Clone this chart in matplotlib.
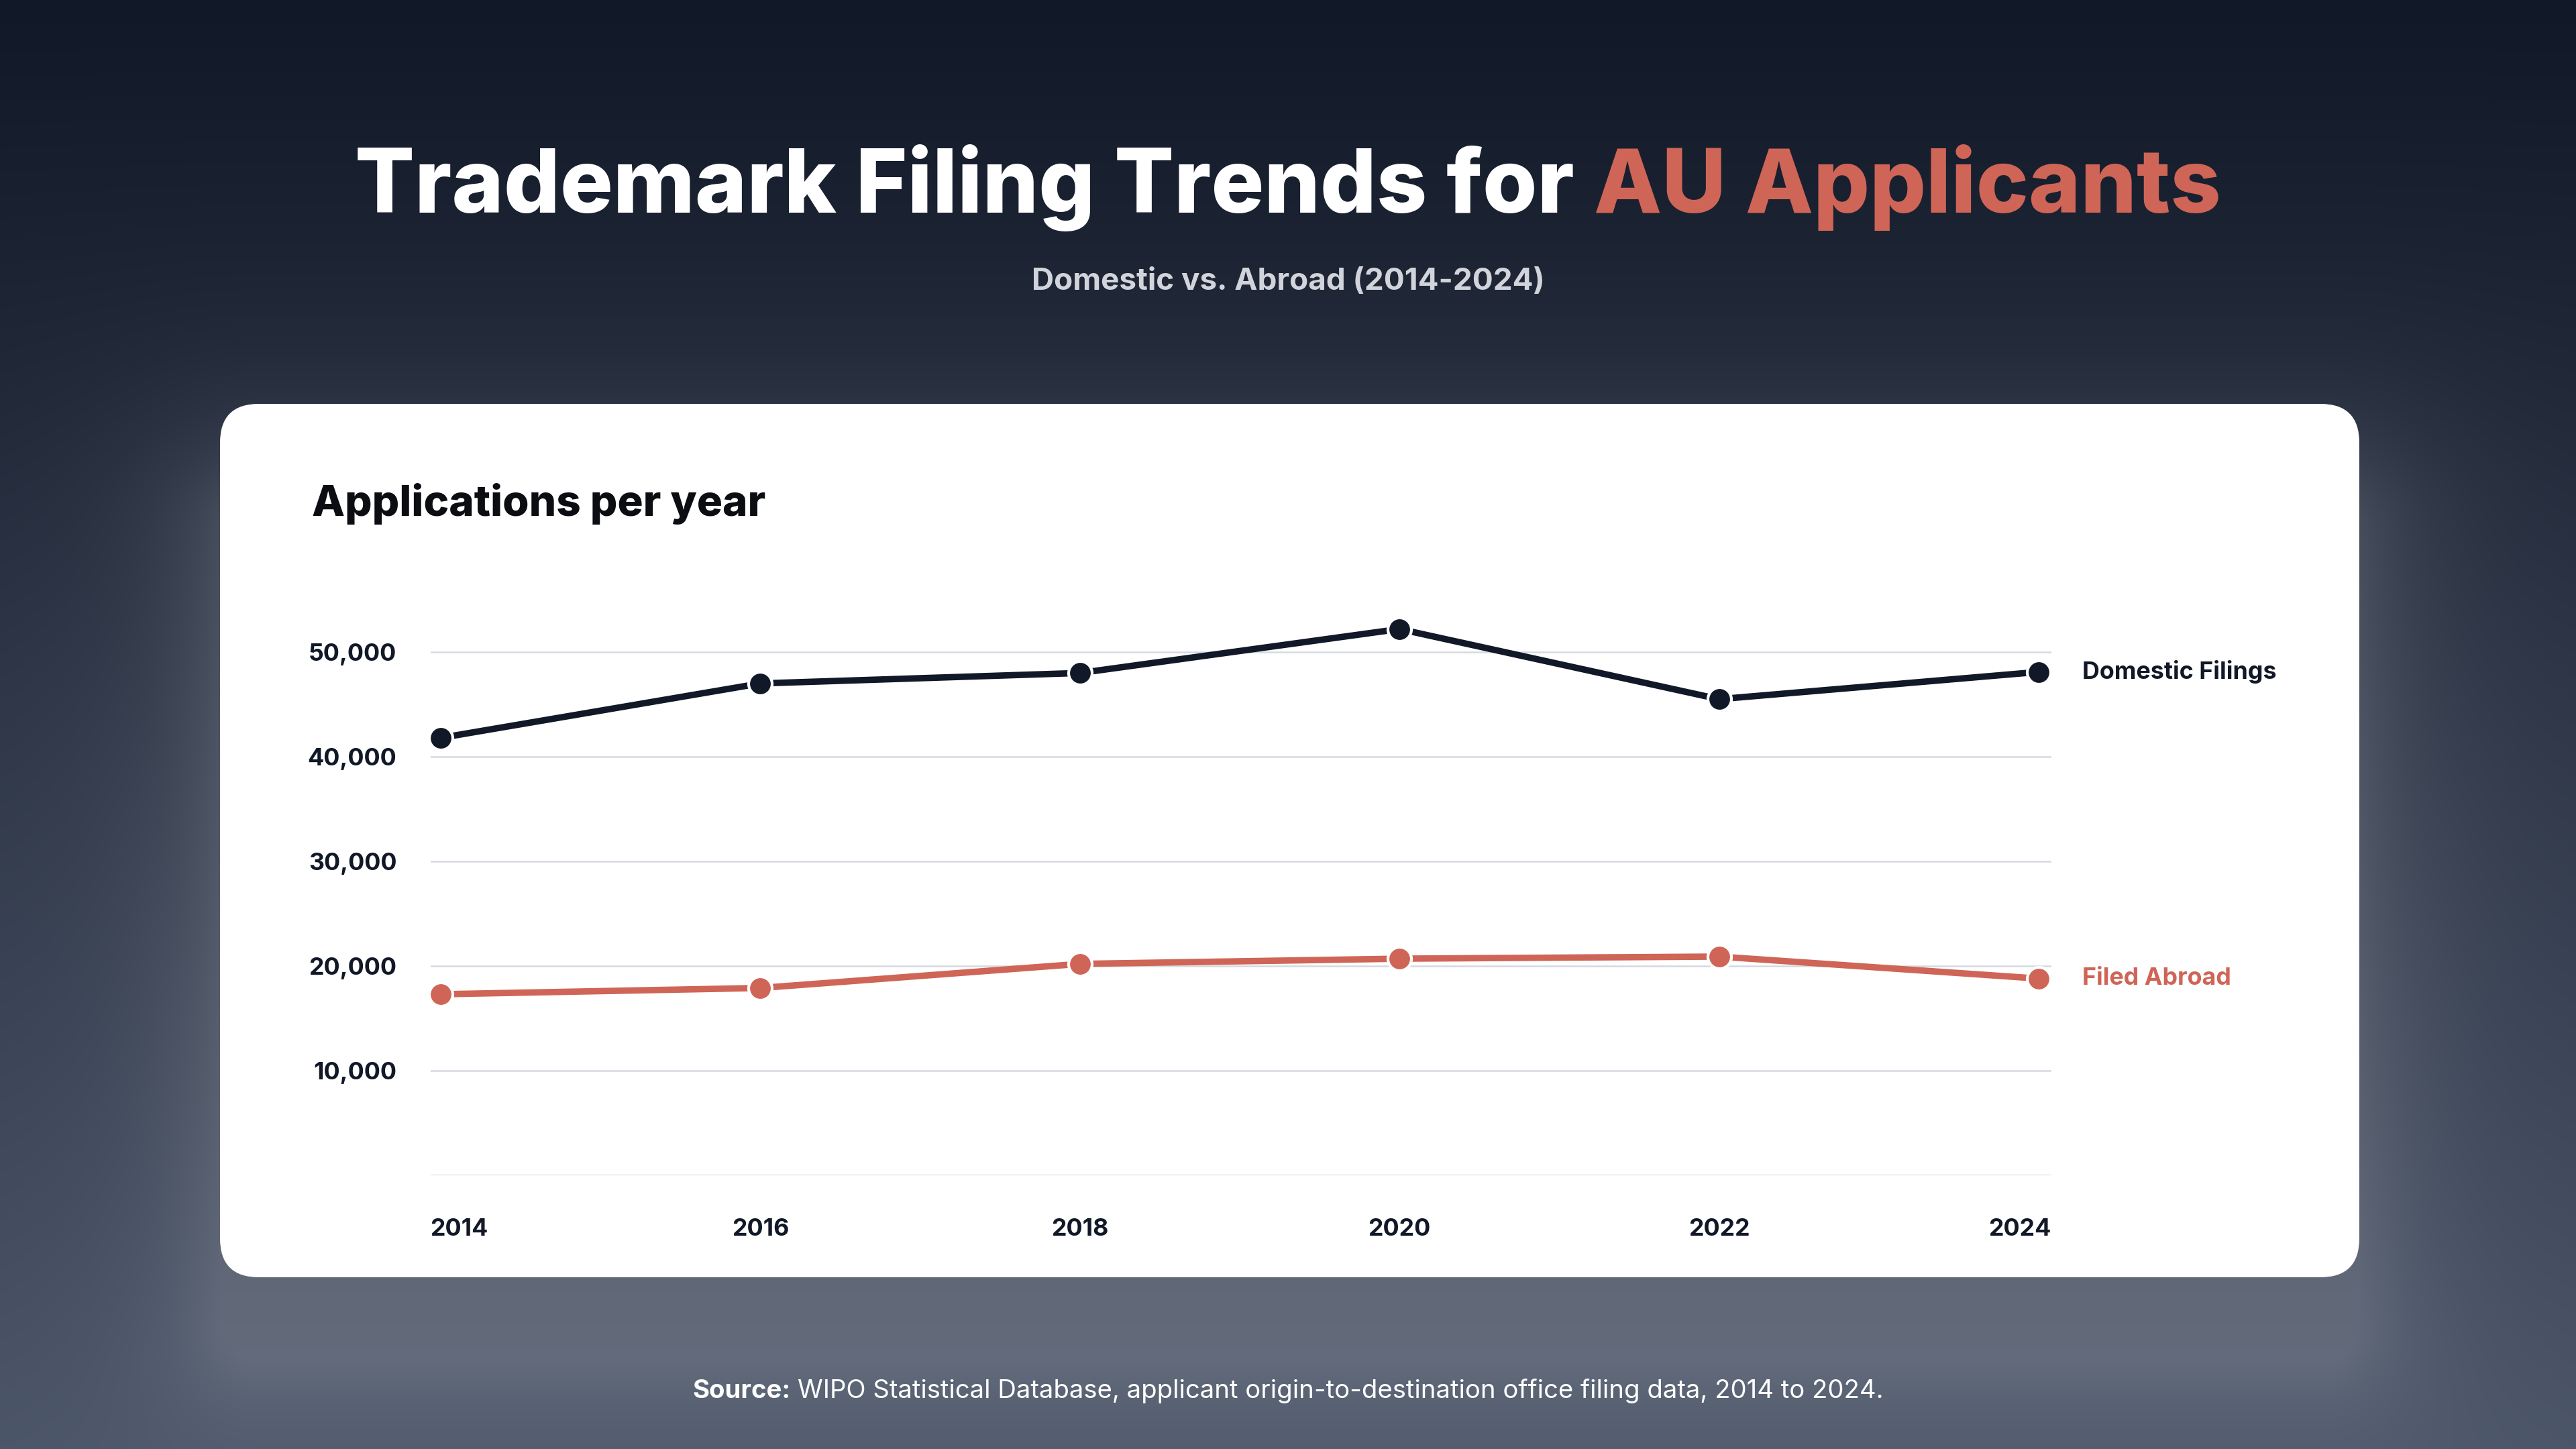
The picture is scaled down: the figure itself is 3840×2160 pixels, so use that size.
import numpy as np
import matplotlib.pyplot as plt
from matplotlib.patches import FancyBboxPatch
from matplotlib import transforms

# Data
years = [2014, 2016, 2018, 2020, 2022, 2024]
domestic = [41800, 47000, 48000, 52200, 45500, 48100]
abroad = [17300, 17900, 20200, 20700, 20900, 18800]
y_ticks = [10000, 20000, 30000, 40000, 50000]
series_names = ["Domestic Filings", "Filed Abroad"]

NAVY = "#111827"
CORAL = "#cf6557"
GRID = "#d5d9e0"

plt.rcParams['font.family'] = ['Inter', 'DejaVu Sans']

W, H = 3840, 2160
fig = plt.figure(figsize=(12.8, 7.2), dpi=300)

# Background (pixel coords, y down)
bg = fig.add_axes([0, 0, 1, 1])
bg.axis('off')

gx, gy = np.meshgrid(np.linspace(0, W, 960), np.linspace(0, H, 540))
top = np.array([0x11, 0x18, 0x27]) / 255
bot = np.array([0x4b, 0x55, 0x68]) / 255
t = (gy / H)[..., None]
img = top + (bot - top) * t

# soft light glow behind the card, pushed downwards
card_x0, card_y0, card_x1, card_y1, rad = 328, 602, 3517, 1904, 58
cx, cy = (card_x0 + card_x1) / 2, (card_y0 + card_y1) / 2 + 130
hx, hy = (card_x1 - card_x0) / 2, (card_y1 - card_y0) / 2
qx = np.abs(gx - cx) - (hx - rad)
qy = np.abs(gy - cy) - (hy - rad)
d = np.hypot(np.maximum(qx, 0), np.maximum(qy, 0)) + np.minimum(np.maximum(qx, qy), 0) - rad
glow = (0.15 * np.exp(-np.maximum(d, 0) / 115))[..., None]
img = img * (1 - glow) + glow
bg.imshow(img, extent=(0, W, H, 0), interpolation='bilinear', aspect='auto', zorder=0)
bg.set_xlim(0, W)
bg.set_ylim(H, 0)

card = FancyBboxPatch((card_x0, card_y0), card_x1 - card_x0, card_y1 - card_y0,
                      boxstyle=f"round,pad=0,rounding_size={rad}",
                      fc='white', ec='none', zorder=1)
bg.add_patch(card)

renderer = fig.canvas.get_renderer()

# Title in two colours
full_title = "Trademark Filing Trends for AU Applicants"
t_full = bg.text(0, 317, full_title, color='white', fontsize=31.6, fontweight='heavy',
                 va='baseline', ha='left', zorder=2)
t_red = bg.text(0, 317, "AU Applicants", color=CORAL, fontsize=31.6, fontweight='heavy',
                va='baseline', ha='left', zorder=3)
w_full = t_full.get_window_extent(renderer).width
w_red = t_red.get_window_extent(renderer).width
x0 = W / 2 - w_full / 2
t_full.set_text("Trademark Filing Trends for")
t_full.set_x(x0)
t_red.set_x(x0 + w_full - w_red)

bg.text(W / 2, 432, "Domestic vs. Abroad (2014-2024)", color='#d1d5db', fontsize=11,
        fontweight='bold', ha='center', va='baseline', zorder=2)

bg.text(465, 769, "Applications per year", color='#0b0d12', fontsize=15.3,
        fontweight='heavy', ha='left', va='baseline', zorder=2)

# Source line
s_b = bg.text(0, 2084, "Source:", color='white', fontsize=9.2, fontweight='bold',
              va='baseline', ha='left', zorder=2)
s_r = bg.text(0, 2084, "WIPO Statistical Database, applicant origin-to-destination office filing data, 2014 to 2024.",
              color='white', fontsize=9.2, va='baseline', ha='left', zorder=2)
wb = s_b.get_window_extent(renderer).width
wr = s_r.get_window_extent(renderer).width
gap = 11
sx = W / 2 - (wb + gap + wr) / 2
s_b.set_x(sx)
s_r.set_x(sx + wb + gap)

# Chart axes
px_per_10k = 156
ax = fig.add_axes([641.5 / W, 1 - 1752 / H, (3058 - 641.5) / W, 5.6 * px_per_10k / H])
ax.set_zorder(2)
ax.patch.set_alpha(0)
ax.set_xlim(2013.935, 2024.08)
ax.set_ylim(0, 56000)
for s in ax.spines.values():
    s.set_visible(False)

ax.set_yticks(y_ticks)
ax.set_yticklabels([f"{v:,}" for v in y_ticks])
ax.tick_params(axis='y', length=0, pad=12, labelsize=8.6, labelcolor=NAVY)
for lab in ax.get_yticklabels():
    lab.set_fontweight('bold')
ax.grid(axis='y', color=GRID, lw=0.6)
ax.axhline(0, color=GRID, lw=0.75)
ax.set_xticks([])

ax.plot(years, domestic, color=NAVY, lw=2.3, marker='o', ms=8.4, mfc=NAVY,
        mec='white', mew=1, clip_on=False, zorder=3)
ax.plot(years, abroad, color=CORAL, lw=2.3, marker='o', ms=8.4, mfc=CORAL,
        mec='white', mew=1, clip_on=False, zorder=3)

for name, vals, col in zip(series_names, [domestic, abroad], [NAVY, CORAL]):
    ax.annotate(name, (years[-1], vals[-1]), xytext=(15.6, 0), textcoords='offset points',
                va='center', ha='left', fontsize=8.6, fontweight='bold', color=col,
                annotation_clip=False)

# x labels, ends pinned to the plot edges
trans = transforms.blended_transform_factory(ax.transData, ax.transAxes)
xl = ax.get_xlim()
for i, yr in enumerate(years):
    if i == 0:
        x, ha = xl[0], 'left'
    elif i == len(years) - 1:
        x, ha = xl[1], 'right'
    else:
        x, ha = yr, 'center'
    ax.text(x, -0.0916, str(yr), transform=trans, ha=ha, va='center', fontsize=8.6,
            fontweight='bold', color=NAVY)

fig.savefig('out.png', dpi=300)
